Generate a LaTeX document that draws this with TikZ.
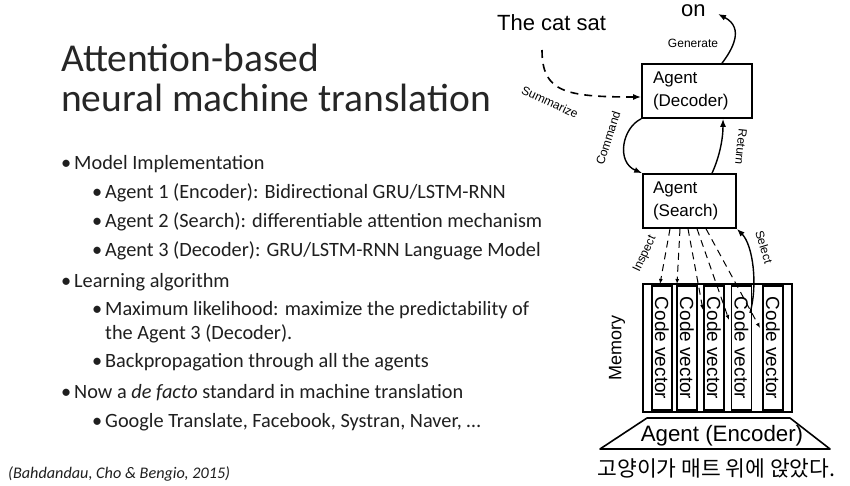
\documentclass[tikz,border=0pt]{standalone}
\usepackage{fontspec}
\setmainfont{Carlito}
\newfontfamily\hv{Liberation Sans}
\newfontfamily\kr{Noto Sans CJK KR}
\usetikzlibrary{arrows.meta,calc}
\begin{document}
\begin{tikzpicture}[x=1pt,y=-1pt,
  box/.style={draw,line width=1.6pt,align=left,inner ysep=0pt,font=\hv\fontsize{17}{23}\selectfont},
  cell/.style={draw,line width=1.3pt,rotate=-90,minimum width=124pt,minimum height=20pt,inner sep=0pt,font=\hv\fontsize{19}{19}\selectfont},
  arr/.style={line width=1.4pt,-{Latex[length=8pt,width=6pt]}},
  dsh/.style={line width=1pt,dash pattern=on 7pt off 5pt,-{Latex[length=5pt,width=4pt]}},
  lbl/.style={font=\hv\fontsize{12}{12}\selectfont,inner sep=0pt},
  body/.style={anchor=base west,inner sep=0pt,font=\fontsize{20.3}{24}\selectfont,text=black!88},
  ttl/.style={anchor=base west,inner sep=0pt,font=\fontsize{39.5}{40}\selectfont,text=black!85}
]
\useasboundingbox[fill=white] (0,0) rectangle (850,486);

% title
\node[ttl] (t1) at (61,72) {Attention-based};
\node[ttl] (t2) at (61,112) {neural machine translation};

% bullets
\node[body] (b1d) at (61,170) {•};
\node[body] (b1) at (74,170) {Model Implementation};
\node[body] (b2d) at (92,199) {•};
\node[body] (b2) at (105,199) {Agent 1 (Encoder): Bidirectional GRU/LSTM-RNN};
\node[body] (b3d) at (92,227) {•};
\node[body] (b3) at (105,227) {Agent 2 (Search): differentiable attention mechanism};
\node[body] (b4d) at (92,256) {•};
\node[body] (b4) at (105,256) {Agent 3 (Decoder): GRU/LSTM-RNN Language Model};
\node[body] (b5d) at (61,287) {•};
\node[body] (b5) at (74,287) {Learning algorithm};
\node[body] (b6d) at (92,315) {•};
\node[body] (b6) at (105,315) {Maximum likelihood: maximize the predictability of};
\node[body] (b7) at (105,339) {the Agent 3 (Decoder).};
\node[body] (b8d) at (92,367) {•};
\node[body] (b8) at (105,367) {Backpropagation through all the agents};
\node[body] (b9d) at (61,398) {•};
\node[body] (b9) at (74,398) {Now a \textit{de facto} standard in machine translation};
\node[body] (b10d) at (92,427) {•};
\node[body] (b10) at (105,427) {Google Translate, Facebook, Systran, Naver, …};

\node[anchor=base west,inner sep=0pt,font=\itshape\fontsize{16.2}{16}\selectfont,text=black!88] (cite) at (8,478) {(Bahdandau, Cho \& Bengio, 2015)};

% diagram
\node[anchor=base west,inner sep=0pt,font=\hv\fontsize{22}{22}\selectfont] (cat) at (497,31) {The cat sat};
\node[anchor=base west,inner sep=0pt,font=\hv\fontsize{22}{22}\selectfont] (on) at (681,17) {on};

\node[box,minimum width=110pt,minimum height=54pt,text width=88pt,inner xsep=11pt] (dec) at (697,91) {Agent\\(Decoder)};
\node[box,minimum width=93pt,minimum height=54pt,text width=73pt,inner xsep=10pt] (srch) at (689.5,201) {Agent\\(Search)};

\node[draw,line width=1.6pt,minimum width=149pt,minimum height=128pt,inner sep=0pt] (mem) at (717.5,348) {};
\node[cell] (c1) at (662,348) {Code vector};
\node[cell] (c2) at (687,348) {Code vector};
\node[cell] (c3) at (714,348) {Code vector};
\node[cell] (c4) at (741.5,348) {Code vector};
\node[cell] (c5) at (773,348) {Code vector};
\node[rotate=90,inner sep=0pt,font=\hv\fontsize{18}{18}\selectfont] (memlbl) at (617,348) {Memory};

\node[anchor=base,inner sep=0pt,font=\hv\fontsize{22.3}{22}\selectfont] (enc) at (722,441) {Agent (Encoder)};
\draw[line width=1.6pt,line join=round] (647,418) -- (790,418) -- (830,449) -- (600,449) -- cycle;
\node[anchor=base,inner sep=0pt,font=\kr\fontsize{21.5}{21.5}\selectfont] (kr) at (716.5,476) {고양이가 매트 위에 앉았다.};

% connectors
\coordinate (sumstart) at (542,50);
\draw[line width=1.6pt,dash pattern=on 8pt off 6pt,-{Latex[length=8pt,width=6pt]}]
  (sumstart) .. controls (542,92) and (565,97) .. (dec.west |- 0,97);
\coordinate (gentip) at (718,14);
\draw[arr] (dec.north -| 722,0) .. controls (732,50) and (745,28) .. (gentip);
\draw[arr] (dec.south west) .. controls (622,128) and (616,162) .. (srch.north west);
\draw[arr] (srch.north -| 712,0) .. controls (719,158) and (723,140) .. (dec.south -| 723,0);

\coordinate (i1) at (660,284);
\coordinate (i2) at (677,284);
\coordinate (i3) at (703,310);
\coordinate (i4) at (729,320);
\coordinate (i5) at (760,328);
\draw[dsh] ([xshift=-19.5pt]srch.south) -- (i1);
\draw[dsh] ([xshift=-9.5pt]srch.south) -- (i2);
\draw[dsh] ([xshift=-1.5pt]srch.south) -- (i3);
\draw[dsh] ([xshift=7.5pt]srch.south) -- (i4);
\draw[dsh] ([xshift=16.5pt]srch.south) -- (i5);

\coordinate (selstart) at (750,313);
\draw[arr] (selstart) .. controls (758,285) and (753,245) .. (srch.south east);

% labels
\node[lbl] (lgen) at (693,43) {Generate};
\node[lbl,rotate=-25] (lsum) at (550,102) {Summarize};
\node[lbl,rotate=72] (lcmd) at (608,138) {Command};
\node[lbl,rotate=-96] (lret) at (741,147) {Return};
\node[lbl,rotate=65] (lins) at (645,254) {Inspect};
\node[lbl,rotate=-73] (lsel) at (764,247) {Select};
\end{tikzpicture}
\end{document}
